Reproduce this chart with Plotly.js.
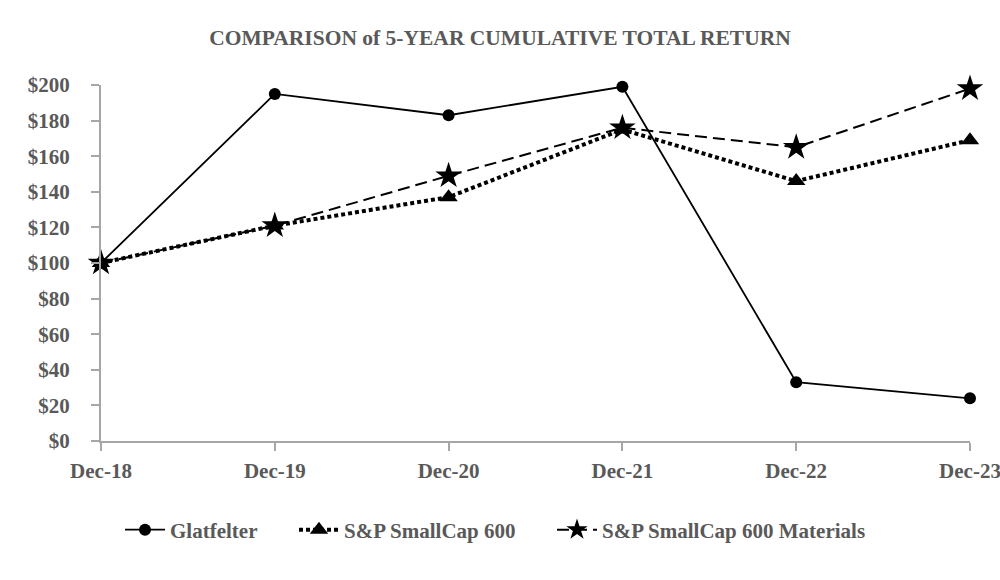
<!DOCTYPE html>
<html>
<head>
<meta charset="utf-8">
<script src="https://cdn.plot.ly/plotly-3.0.1.min.js"></script>
<style>html,body{margin:0;padding:0;background:#fff;}#chart{width:1000px;height:580px;}</style>
</head>
<body>
<div id="chart"></div>
<script>
const categories = ["Dec-18", "Dec-19", "Dec-20", "Dec-21", "Dec-22", "Dec-23"];
const seriesNames = ["Glatfelter", "S&P SmallCap 600", "S&P SmallCap 600 Materials"];
const glatfelter = [100, 195, 183, 199, 33, 24];
const smallCap600 = [100, 121, 137, 175, 146, 169];
const smallCapMaterials = [100, 121, 149, 176, 165, 198];
const yTickVals = [0, 20, 40, 60, 80, 100, 120, 140, 160, 180, 200];
const yTickText = yTickVals.map(v => "$" + v);

const xIdx = categories.map((c, i) => i);
const FAM = "'Liberation Serif', 'Times New Roman', Times, serif";
const GRAY = "#595959";
const font = {family: FAM, size: 21, color: GRAY};
const GAP = "\u2002\u2002\u2002";

const traces = [
  {name: "<b>" + seriesNames[0] + "</b>" + GAP, x: xIdx, y: glatfelter, mode: "lines+markers", cliponaxis: false,
   line: {color: "#000", width: 1.8, dash: "solid"},
   marker: {symbol: "circle", size: 12, color: "#000"}},
  {name: "<b>" + seriesNames[1] + "</b>" + GAP, x: xIdx, y: smallCap600, mode: "lines+markers", cliponaxis: false,
   line: {color: "#000", width: 4, dash: "4px,3px"},
   marker: {symbol: "triangle-up", size: 16, color: "#000"}},
  {name: "<b>" + seriesNames[2] + "</b>", x: xIdx, y: smallCapMaterials, mode: "lines+markers", cliponaxis: false,
   line: {color: "#000", width: 2, dash: "12px,6px"},
   marker: {symbol: "star", size: 20, color: "#000"}}
];

const layout = {
  width: 1000, height: 580,
  margin: {l: 101, r: 30, t: 85, b: 139},
  paper_bgcolor: "#fff", plot_bgcolor: "#fff",
  font: font,
  title: {text: "<b>COMPARISON of 5-YEAR CUMULATIVE TOTAL RETURN</b>", x: 0.5, xanchor: "center", y: 0.935, yanchor: "middle",
          font: {family: FAM, size: 21.5, color: GRAY}},
  showlegend: true,
  legend: {orientation: "h", x: 0.454, xanchor: "center", y: -0.25, yanchor: "middle",
           font: {family: FAM, size: 21, color: GRAY}, itemwidth: 40, traceorder: "normal"},
  xaxis: {range: [0, 5], tickvals: xIdx, ticktext: categories.map(c => "<b>" + c + "</b>"),
          showgrid: false, zeroline: false, showline: true, linecolor: "#a6a6a6", linewidth: 2,
          ticks: "outside", ticklen: 8, tickwidth: 2, tickcolor: "#a6a6a6", ticklabeloverflow: "allow",
          ticklabelstandoff: 2,
          tickfont: {family: FAM, size: 21, color: GRAY}, fixedrange: true},
  yaxis: {range: [0, 200], tickvals: yTickVals, ticktext: yTickText.map(t => "<b>" + t + "</b>"),
          showgrid: false, zeroline: false, showline: true, linecolor: "#a6a6a6", linewidth: 2,
          ticks: "outside", ticklen: 8, tickwidth: 2, tickcolor: "#a6a6a6", ticklabelstandoff: 17,
          tickfont: {family: FAM, size: 21, color: GRAY}, fixedrange: true}
};

Plotly.newPlot("chart", traces, layout, {displayModeBar: false, staticPlot: true});
</script>
</body>
</html>
